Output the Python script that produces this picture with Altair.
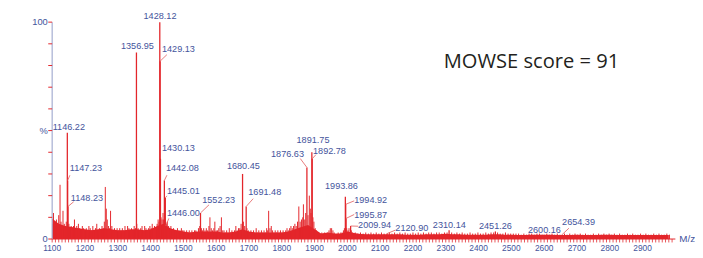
import altair as alt
import pandas as pd

RED = "#e3262b"
BLUE = "#44549c"

# ---- labelled peaks (m/z, relative intensity %) ----
peak_mz = [1146.22, 1147.23, 1148.23, 1356.95, 1428.12, 1429.13, 1430.13, 1442.08,
           1445.01, 1446.00, 1552.23, 1680.45, 1691.48, 1876.63, 1891.75, 1892.78,
           1993.86, 1994.92, 1995.87, 2009.94, 2120.90, 2310.14, 2451.26, 2600.16, 2654.39]
peak_int = [49, 27, 15, 86, 100, 82, 37, 27, 19, 6, 12, 30, 15, 33, 40, 37,
            19.5, 16, 9.5, 6, 2.5, 4, 3.5, 2, 2]
peak_text = ["1146.22", "1147.23", "1148.23", "1356.95", "1428.12", "1429.13", "1430.13",
             "1442.08", "1445.01", "1446.00", "1552.23", "1680.45", "1691.48", "1876.63",
             "1891.75", "1892.78", "1993.86", "1994.92", "1995.87", "2009.94", "2120.90",
             "2310.14", "2451.26", "2600.16", "2654.39"]

# label layout (anchor in data units, alignment, leader-line end or None)
label_mz = [1150.8, 1153.8, 1156.8, 1360.0, 1428.8, 1434.8, 1434.8, 1446.8,
            1449.8, 1449.8, 1557.4, 1683.0, 1697.9, 1817.5, 1895.2, 1895.2,
            1982.0, 2020.8, 2020.8, 2032.7, 2146.3, 2310.8, 2451.3, 2600.8, 2654.6]
label_int = [51.6, 32.6, 19.0, 89.1, 102.7, 87.8, 42.1, 32.6, 22.2, 12.2, 18.1, 33.5,
             21.7, 39.4, 45.7, 40.7, 24.4, 18.1, 10.9, 6.3, 5.0, 6.3, 5.9, 4.1, 7.7]
label_align = ["c", "l", "l", "c", "c", "l", "l", "l", "l", "l", "l", "c", "l", "c",
               "c", "l", "c", "l", "l", "l", "l", "c", "c", "c", "l"]
leader_end = [None, (1154, 29.4), (1165.8, 17.2), None, None, (1449.8, 85), None,
              (1449.8, 29.4), (1449.8, 19.9), (1455.8, 9.5), (1578.3, 15.8), None,
              (1712.9, 18.6), (1856.4, 37.1), None, (1904.2, 38.9), None,
              (2020.8, 17.6), (2020.8, 11.3), (2032.7, 5.9), (2146.3, 4.1), None, None,
              None, (2675.5, 5.0)]

# ---- baseline noise envelope (every 20 m/z from 1100) ----
env_mz = list(range(1100, 2981, 20))
env_int = [9.5, 7, 6, 5.5, 5, 4.5, 4, 4.5, 5, 4.5, 4, 4, 4.5, 4.5, 4, 4.5, 6, 7, 5, 4,
           3.5, 3, 3.5, 3.5, 3.5, 3.5, 3, 3, 3.5, 4.5, 3.5, 3, 3, 3, 3, 3, 3.5, 4.5, 5.5, 6.5,
           4.5, 2.5, 3, 2.5, 2.5, 3.5, 2.8, 2.3, 2.2, 2.2, 2.2, 2.2, 2.2, 2.2, 2, 2, 2, 2.2, 2.2, 2.2,
           2.4, 2.2, 2.2, 2, 2, 2, 2, 2.2, 2.2, 2, 2, 1.8, 1.8, 2, 2, 2, 2, 1.8, 1.8, 1.8,
           2, 1.8, 1.8, 1.8, 2, 2, 1.8, 1.8, 1.8, 1.8, 1.8, 1.8, 1.8, 1.8, 1.8]

# ---- unlabelled spikes (m/z, %) ----
spikes = [
    (1101, 7), (1104, 12), (1107, 8), (1110, 6), (1113, 9), (1116, 7), (1120, 11), (1124, 25),
    (1127, 8), (1130, 6), (1133, 13), (1137, 7), (1140, 6), (1143, 8), (1151, 7), (1155, 5),
    (1158, 6), (1162, 5), (1165, 6), (1168, 9), (1171, 5), (1175, 6), (1180, 7), (1184, 5),
    (1188, 4), (1192, 6), (1196, 5),
    (1200, 4), (1204, 5), (1208, 4), (1212, 6), (1216, 5), (1220, 4), (1224, 6), (1228, 4),
    (1232, 5), (1236, 7), (1240, 4), (1244, 5), (1248, 4), (1252, 6), (1256, 5), (1259, 8),
    (1262, 24), (1265, 14), (1268, 9), (1272, 6), (1275, 5), (1278, 13), (1282, 6), (1286, 4),
    (1290, 5), (1294, 4), (1298, 5),
    (1302, 4), (1306, 5), (1310, 4), (1314, 5), (1318, 4), (1322, 6), (1326, 4), (1330, 6),
    (1334, 5), (1338, 4), (1342, 5), (1346, 4), (1350, 6), (1354, 5), (1358, 7), (1362, 5),
    (1366, 4), (1370, 5), (1374, 6), (1378, 4), (1382, 6), (1386, 5), (1390, 4), (1394, 5),
    (1398, 6),
    (1402, 5), (1405, 7), (1408, 5), (1412, 6), (1416, 5), (1420, 7), (1423, 9), (1426, 8),
    (1432, 10), (1435, 9), (1438, 12), (1440, 9), (1444, 10), (1448, 7), (1451, 8), (1455, 6),
    (1458, 5), (1462, 6), (1466, 4), (1470, 5), (1474, 4), (1478, 4), (1482, 5), (1486, 4),
    (1490, 4), (1494, 5), (1498, 4),
    (1502, 4), (1506, 3), (1510, 4), (1514, 3), (1518, 4), (1522, 3), (1526, 4), (1530, 3),
    (1534, 4), (1538, 4), (1542, 3), (1546, 5), (1550, 6), (1555, 5), (1558, 4), (1562, 5),
    (1566, 4), (1570, 5), (1574, 4), (1578, 6), (1581, 10), (1585, 5), (1589, 4), (1593, 5),
    (1596, 8), (1600, 4),
    (1604, 4), (1608, 5), (1612, 6), (1616, 10), (1620, 4), (1624, 4), (1628, 3), (1632, 4),
    (1636, 3), (1640, 5), (1644, 3), (1648, 4), (1652, 3), (1656, 4), (1660, 6), (1664, 4),
    (1668, 5), (1672, 5), (1676, 7), (1683, 8), (1687, 6), (1694, 5), (1698, 4),
    (1702, 3), (1706, 4), (1710, 3), (1714, 4), (1718, 3), (1722, 5), (1726, 3), (1730, 4),
    (1734, 3), (1738, 4), (1742, 3), (1746, 4), (1750, 3), (1754, 5), (1757, 4), (1760, 13),
    (1764, 5), (1768, 6), (1772, 4), (1776, 3), (1780, 4), (1784, 3), (1788, 4), (1792, 3),
    (1796, 4),
    (1800, 3), (1804, 4), (1808, 3), (1812, 4), (1816, 5), (1820, 4), (1824, 5), (1828, 6),
    (1832, 5), (1836, 6), (1840, 7), (1844, 6), (1848, 8), (1852, 15), (1856, 8), (1860, 9),
    (1864, 10), (1866, 16), (1870, 9), (1873, 12), (1880, 11), (1884, 20), (1887, 14),
    (1889, 12), (1895, 10), (1898, 8),
    (1902, 5), (1906, 4), (1910, 3), (1914, 2), (1918, 2), (1922, 3), (1926, 2), (1930, 3),
    (1934, 2), (1940, 3), (1944, 4), (1948, 5), (1952, 5), (1956, 4), (1960, 3), (1964, 2),
    (1968, 2), (1972, 3), (1976, 2), (1980, 3), (1984, 3), (1988, 4), (1991, 5), (1998, 5),
    (2002, 4), (2005, 5), (2012, 4), (2016, 3),
    (2024, 3), (2032, 2.5), (2040, 3), (2048, 2.5), (2056, 3), (2064, 2.5), (2072, 3),
    (2080, 2.5), (2088, 3), (2096, 2.5), (2104, 3), (2112, 2.5), (2128, 3), (2136, 2.5),
    (2144, 3), (2152, 2.5), (2160, 3), (2168, 2.5), (2176, 3), (2184, 2.5), (2192, 2.5),
    (2200, 3), (2208, 2.5), (2216, 3), (2224, 2.5), (2232, 3), (2240, 2.5), (2248, 3),
    (2256, 3), (2264, 2.5), (2272, 3), (2280, 3), (2288, 2.5), (2296, 3), (2304, 3),
    (2318, 3), (2326, 2.5), (2334, 3), (2342, 2.5), (2350, 3), (2358, 2.5), (2366, 2.5),
    (2374, 3), (2382, 2.5), (2390, 2.5), (2398, 3), (2406, 2.5), (2414, 2.5), (2422, 3),
    (2430, 2.5), (2438, 3), (2446, 3), (2458, 3), (2466, 2.5), (2474, 2.5), (2482, 3),
    (2490, 2.5), (2498, 2.5), (2506, 2.5), (2514, 2.5), (2522, 2.5), (2530, 2), (2538, 2.5),
    (2546, 2), (2554, 2.5), (2562, 2.5), (2570, 2), (2578, 2.5), (2586, 2.5), (2594, 2),
    (2608, 2.5), (2616, 2), (2624, 2.5), (2632, 2), (2640, 2.5), (2648, 2), (2662, 2.5),
    (2670, 2), (2678, 2.5), (2686, 2), (2694, 2.5), (2702, 2), (2710, 2.5), (2718, 2),
    (2726, 2.5), (2734, 2), (2742, 2), (2750, 2.5), (2758, 2), (2766, 2.5), (2774, 2),
    (2782, 2.5), (2790, 2), (2798, 2.5), (2806, 2), (2814, 2.5), (2822, 2), (2830, 2.5),
    (2838, 2), (2846, 2), (2854, 2.5), (2862, 2), (2870, 2.5), (2878, 2), (2886, 2),
    (2894, 2.5), (2902, 2), (2910, 2.5), (2918, 2), (2926, 2), (2934, 2.5), (2942, 2),
    (2950, 2.5), (2958, 2), (2966, 2), (2974, 2.5), (2982, 2),
]

x_label_values = list(range(1100, 3000, 100))
x_minor = list(range(1100, 2991, 10))
y_label_values = [0, 50, 100]
y_label_text = ["0", "%", "100"]
y_minor = list(range(0, 101, 10))

# ---- data frames ----
peaks = pd.DataFrame({"mz": peak_mz, "inten": peak_int, "text": peak_text,
                      "lx": label_mz, "ly": label_int, "align": label_align})
leaders = pd.DataFrame([
    {"mz": m, "inten": i, "ex": e[0], "ey": e[1]}
    for m, i, e in zip(peak_mz, peak_int, leader_end) if e is not None
])
env = pd.DataFrame({"mz": env_mz, "inten": env_int})
spk = pd.DataFrame(spikes, columns=["mz", "inten"])
xlab = pd.DataFrame({"mz": x_label_values, "t": [str(v) for v in x_label_values]})
ylab = pd.DataFrame({"v": y_label_values, "t": y_label_text})

xs = alt.Scale(domain=[1100, 3000], nice=False, zero=False)
ys = alt.Scale(domain=[0, 100], nice=False)

X = lambda f: alt.X(f, scale=xs, axis=None)
Y = lambda f: alt.Y(f, scale=ys, axis=None)

# axis lines
y_domain = alt.Chart(pd.DataFrame({"a": [0], "b": [100]})).mark_rule(
    color="#a3acd0", strokeWidth=1.2).encode(x=alt.value(0), y=Y("a:Q"), y2="b:Q")
x_domain = alt.Chart(pd.DataFrame({"a": [1100], "b": [3000]})).mark_rule(
    color=RED, strokeWidth=1).encode(x=X("a:Q"), x2="b:Q", y=alt.value(221))

area = alt.Chart(env).mark_area(color=RED, interpolate="linear").encode(
    x=X("mz:Q"), y=Y("inten:Q"))

xtick_layer = alt.Chart(pd.DataFrame({"mz": x_minor})).mark_rule(
    color=RED, strokeWidth=0.8).encode(x=X("mz:Q"), y=alt.value(221), y2=alt.value(224.5))

xlabel_layer = alt.Chart(xlab).mark_text(
    align="center", baseline="middle", font="Liberation Sans", fontSize=8.5, color=BLUE
).encode(x=X("mz:Q"), y=alt.value(230.5), text="t:N")

ytick_layer = alt.Chart(pd.DataFrame({"v": y_minor})).mark_rule(
    color=RED, strokeWidth=1).encode(y=Y("v:Q"), x=alt.value(-4), x2=alt.value(0))

ylabel_layer = alt.Chart(ylab).mark_text(
    align="right", baseline="middle", font="Liberation Sans", fontSize=9.5, color=BLUE
).encode(y=Y("v:Q"), x=alt.value(-4.5), text="t:N")

spike_layer = alt.Chart(spk).mark_rule(color=RED, strokeWidth=1).encode(
    x=X("mz:Q"), y=Y("inten:Q"), y2=alt.datum(0))

peak_layer = alt.Chart(peaks).mark_rule(color=RED, strokeWidth=1.3).encode(
    x=X("mz:Q"), y=Y("inten:Q"), y2=alt.datum(0))

leader_layer = alt.Chart(leaders).mark_rule(color="#e25a5a", strokeWidth=0.8).encode(
    x=X("mz:Q"), y=Y("inten:Q"), x2="ex:Q", y2="ey:Q")

lab_c = alt.Chart(peaks).transform_filter("datum.align == 'c'").mark_text(
    align="center", baseline="middle", font="Liberation Sans", fontSize=9.3, color=BLUE
).encode(x=X("lx:Q"), y=Y("ly:Q"), text="text:N")

lab_l = alt.Chart(peaks).transform_filter("datum.align == 'l'").mark_text(
    align="left", baseline="middle", font="Liberation Sans", fontSize=9.3, color=BLUE
).encode(x=X("lx:Q"), y=Y("ly:Q"), text="text:N")

score = alt.Chart(pd.DataFrame({"t": ["MOWSE score = 91"]})).mark_text(
    align="left", baseline="alphabetic", font="Open Sans", fontSize=20.5, color="#231f20"
).encode(x=alt.value(399), y=alt.value(47), text="t:N")

mz_title = alt.Chart(pd.DataFrame({"t": ["M/z"]})).mark_text(
    align="left", baseline="middle", font="Liberation Sans", fontSize=10, color=BLUE
).encode(x=alt.value(639), y=alt.value(221), text="t:N")

chart = alt.layer(area, spike_layer, peak_layer, leader_layer, x_domain, y_domain,
                  xtick_layer, ytick_layer, xlabel_layer, ylabel_layer,
                  lab_c, lab_l, score, mz_title).properties(
    width=635, height=221,
    autosize=alt.AutoSizeParams(type="none"),
    padding={"left": 45, "top": 12, "right": 20, "bottom": 20},
    background="white",
).configure_view(stroke=None)

chart.save("out.html", embed_options={"renderer": "svg", "actions": False})
